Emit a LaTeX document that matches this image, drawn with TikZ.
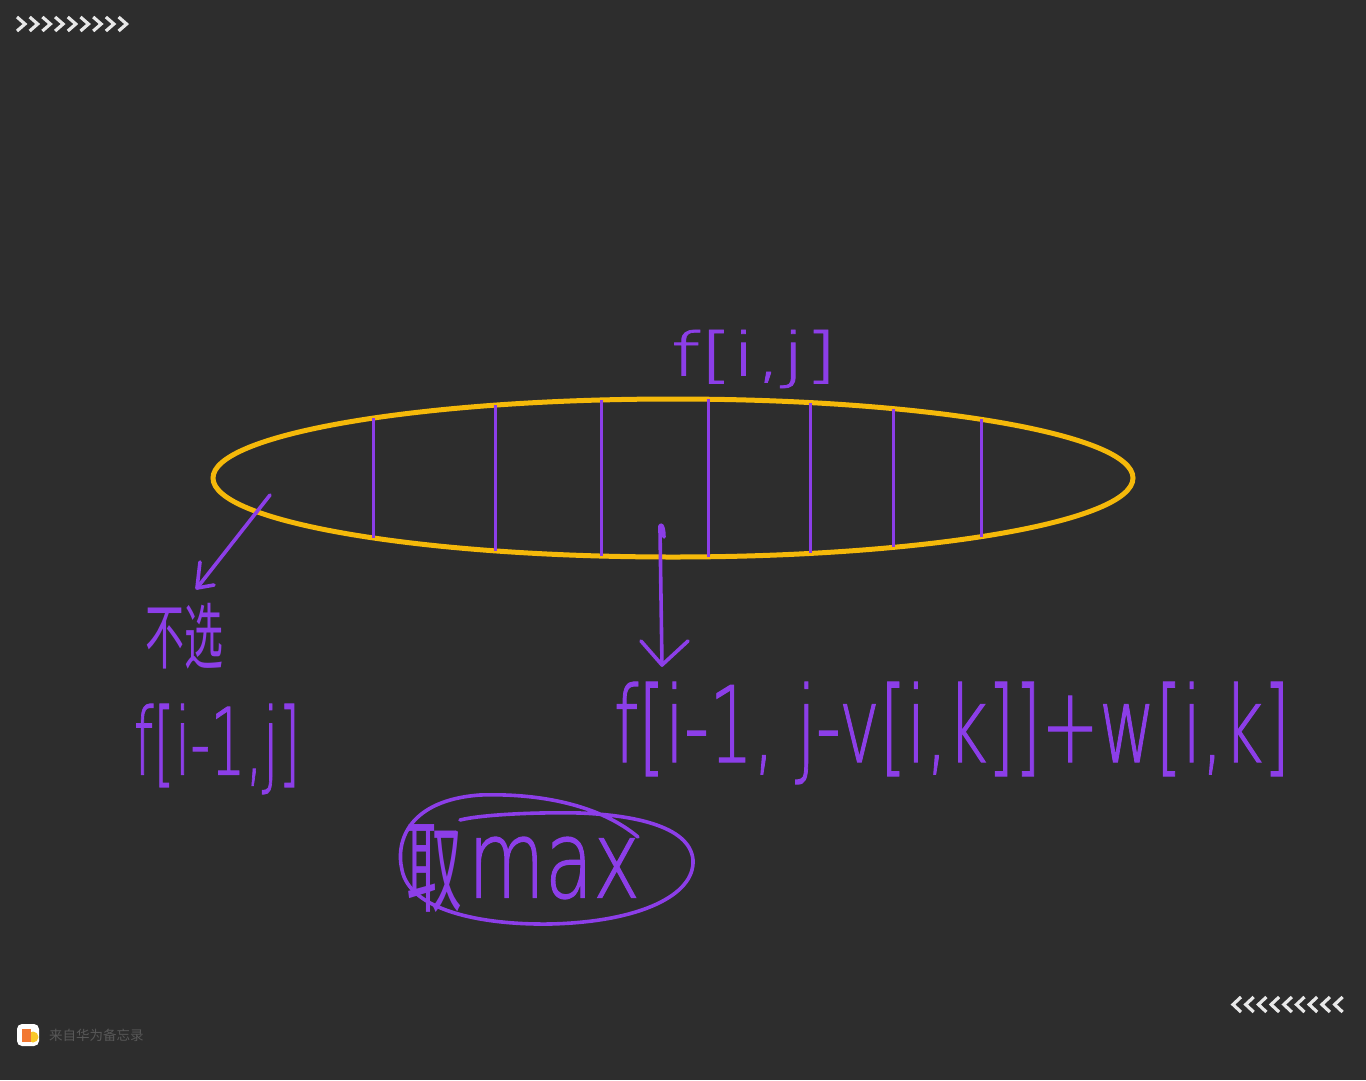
\documentclass[tikz,border=0pt]{standalone}
\usepackage{fontspec}
\usepackage{graphicx}
\newfontfamily\cjk{Noto Sans CJK SC}
\newfontfamily\thin{DejaVu Sans ExtraLight}[FakeBold=1.2]
\usetikzlibrary{shapes.geometric}
\definecolor{bgc}{RGB}{45,45,45}
\definecolor{purp}{RGB}{140,62,232}
\definecolor{gold}{RGB}{245,185,10}
\definecolor{chevc}{RGB}{232,232,232}
\definecolor{foot}{RGB}{88,88,88}
\definecolor{logoA}{RGB}{242,120,50}
\definecolor{logoB}{RGB}{250,200,40}
\begin{document}
\begin{tikzpicture}[x=1pt,y=-1pt,
  chev/.style={draw=chevc,line width=3.2pt},
  ink/.style={draw=purp,line width=3.6pt,line cap=round,line join=round},
  thinink/.style={draw=purp,line width=3pt},
  hand/.style={text=purp,inner sep=0pt,font=\thin},
  handcjk/.style={text=purp,inner sep=0pt,font=\cjk}]
\fill[bgc] (0,0) rectangle (1366,1080);
\useasboundingbox (0,0) rectangle (1366,1080);
% chevrons
\foreach \i in {0,...,8}{
  \draw[chev] (17+12.7*\i,17) -- (25+12.7*\i,24) -- (17+12.7*\i,31);
  \draw[chev] (1241+12.7*\i,997) -- (1233+12.7*\i,1004.5) -- (1241+12.7*\i,1012);
}
% the bag ellipse
\node[draw=gold,line width=5pt,ellipse,inner sep=0pt,minimum width=920pt,minimum height=158pt] (bag) at (673,478) {};
\foreach \x in {373,495,601,708,810,893,981}{
  \pgfmathsetmacro\h{79*sqrt(1-((\x-673)/460)^2)}
  \draw[thinink] (\x,478-\h) -- (\x,478+\h);
}
% texts
\node[hand] (fij) at (754,359) {\resizebox*{166pt}{58pt}{f[i,j]}};
\node[handcjk] (nochoose) at (184,636) {\resizebox*{78pt}{66pt}{不选}};
\node[hand] (prev) at (217,749) {\resizebox*{166pt}{90pt}{f[i-1,j]}};
\node[hand] (choose) at (952,733) {\resizebox*{676pt}{102pt}{f[i-1, j-v[i,k]]+w[i,k]}};
\node[handcjk] (qu) at (434,869) {\resizebox*{56pt}{88pt}{取}};
\node[hand] (maxw) at (554,868) {\resizebox*{172pt}{62pt}{max}};
% arrows
\coordinate (la0) at (270,495);
\coordinate (la1) at (197,588);
\draw[ink] (la0) -- (la1);
\draw[ink] (200,562) -- (la1) -- (214,585);
\coordinate (ma0) at (660,530);
\coordinate (ma1) at (662,665);
\draw[ink] (664,537) .. controls (664,524) and (659,521) .. (ma0) -- (ma1);
\draw[ink] (641,641) -- (ma1) -- (688,641);
% ring around max
\draw[ink] (638,837) .. controls (600,805) and (540,793) .. (480,795)
  .. controls (410,800) and (395,840) .. (402,870)
  .. controls (410,910) and (480,925) .. (550,924)
  .. controls (640,922) and (695,895) .. (693,860)
  .. controls (690,825) and (630,815) .. (580,813)
  .. controls (530,812) and (480,815) .. (460,820);
% footer
\node[fill=white,rounded corners=5pt,minimum size=22pt,inner sep=0pt] (logo) at (28,1035) {};
\fill[logoB] (33,1037) circle (5.5);
\fill[logoA] (22,1029) rectangle (31,1042);
\node[anchor=west,text=foot,font=\cjk\fontsize{13.5}{14}\selectfont,inner sep=0pt] (src) at (49,1035) {来自华为备忘录};
\end{tikzpicture}
\end{document}
